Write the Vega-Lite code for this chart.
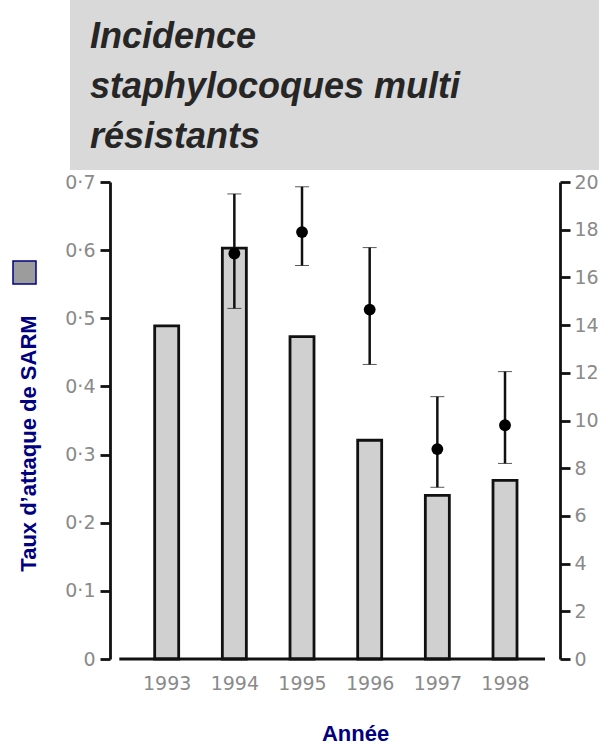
{
  "$schema": "https://vega.github.io/schema/vega-lite/v6.json",
  "padding": {"left": 12, "top": 0, "right": 0, "bottom": 0},
  "background": "white",
  "spacing": 3,
  "config": {"font": "Liberation Sans", "view": {"stroke": null}},
  "vconcat": [
    {
      "width": 529,
      "height": 170,
      "view": {"fill": "#d9d9d9", "stroke": null},
      "data": {"values": [{"bloc": "titre"}]},
      "title": {
        "text": ["Incidence", "staphylocoques multi", "résistants"],
        "anchor": "start",
        "orient": "top",
        "baseline": "bottom",
        "offset": -192,
        "dx": 20,
        "font": "Liberation Sans",
        "fontSize": 36,
        "fontStyle": "italic",
        "fontWeight": "bold",
        "color": "#262626",
        "lineHeight": 50
      },
      "mark": {"type": "rect", "color": "#d9d9d9"},
      "encoding": {}
    },
    {
      "width": 480,
      "height": 477,
      "data": {
        "values": [
          {"annee": 1993, "sarm": 0.489, "incidence": null, "bas": null, "haut": null},
          {"annee": 1994, "sarm": 0.603, "incidence": 17.0, "bas": 14.7, "haut": 19.5},
          {"annee": 1995, "sarm": 0.473, "incidence": 17.9, "bas": 16.5, "haut": 19.8},
          {"annee": 1996, "sarm": 0.321, "incidence": 14.65, "bas": 12.35, "haut": 17.25},
          {"annee": 1997, "sarm": 0.240, "incidence": 8.8, "bas": 7.2, "haut": 11.0},
          {"annee": 1998, "sarm": 0.262, "incidence": 9.8, "bas": 8.2, "haut": 12.05}
        ]
      },
      "layer": [
        {
          "layer": [
            {
              "mark": {"type": "bar", "size": 24, "fill": "#d0d0d0", "stroke": "#111111", "strokeWidth": 2.8},
              "encoding": {
                "x": {
                  "field": "annee",
                  "type": "quantitative",
                  "scale": {"domain": [1991.645, 1998.591], "nice": false, "zero": false},
                  "axis": {
                    "values": [1993, 1994, 1995, 1996, 1997, 1998],
                    "format": "d",
                    "ticks": false,
                    "tickSize": 0,
                    "domain": false,
                    "grid": false,
                    "labelPadding": 15,
                    "labelColor": "#8a8a8a",
                    "labelFont": "DejaVu Sans",
                    "labelFontSize": 19,
                    "labelFlush": false,
                    "labelOverlap": false,
                    "title": "Année",
                    "titleColor": "#000080",
                    "titleFont": "Liberation Sans",
                    "titleFontSize": 22,
                    "titleFontWeight": "bold",
                    "titleX": 285,
                    "titleY": 81,
                    "titleAlign": "center",
                    "titleBaseline": "alphabetic"
                  }
                },
                "y": {
                  "field": "sarm",
                  "type": "quantitative",
                  "scale": {"domain": [0, 0.7], "nice": false},
                  "axis": {
                    "orient": "left",
                    "offset": -40,
                    "values": [0, 0.1, 0.2, 0.3, 0.4, 0.5, 0.6, 0.7],
                    "labelExpr": "datum.value == 0 ? '0' : replace(format(datum.value, '.1f'), '.', '·')",
                    "grid": false,
                    "domainColor": "#111111",
                    "domainWidth": 2.8,
                    "tickColor": "#111111",
                    "tickWidth": 2.8,
                    "tickSize": 10,
                    "labelPadding": 5,
                    "labelColor": "#8a8a8a",
                    "labelFont": "DejaVu Sans",
                    "labelFontSize": 19,
                    "labelFlush": false,
                    "labelOverlap": false,
                    "title": "Taux d’attaque de SARM",
                    "titleColor": "#000080",
                    "titleFont": "Liberation Sans",
                    "titleFontSize": 22,
                    "titleFontWeight": "bold",
                    "titleX": -82,
                    "titleY": 261,
                    "titleAlign": "center",
                    "titleBaseline": "middle"
                  }
                }
              }
            },
            {
              "data": {"values": [{"ligne": "base"}]},
              "mark": {"type": "rule", "color": "#111111", "strokeWidth": 2.8},
              "encoding": {
                "x": {"datum": 1992.3},
                "x2": {"datum": 1998.591},
                "y": {"datum": 0}
              }
            },
            {
              "transform": [{"filter": "false"}],
              "mark": {"type": "square", "filled": true, "opacity": 1, "stroke": "#000080", "strokeWidth": 1.5},
              "encoding": {
                "fill": {
                  "datum": "Taux d’attaque de SARM",
                  "scale": {"range": ["#9c9c9c"]},
                  "legend": {
                    "orient": "none",
                    "legendX": -58,
                    "legendY": 260,
                    "title": null,
                    "padding": 0,
                    "symbolType": "square",
                    "symbolSize": 529,
                    "symbolStrokeColor": "#000080",
                    "symbolStrokeWidth": 1.5,
                    "symbolOpacity": 1,
                    "labelExpr": "''"
                  }
                }
              }
            }
          ]
        },
        {
          "transform": [{"filter": "datum.incidence != null"}],
          "layer": [
            {
              "mark": {
                "type": "errorbar",
                "ticks": {"size": 14, "color": "#111111", "strokeWidth": 2.5},
                "rule": {"color": "#111111", "strokeWidth": 2.5}
              },
              "encoding": {
                "x": {"field": "annee", "type": "quantitative"},
                "y": {
                  "field": "bas",
                  "type": "quantitative",
                  "scale": {"domain": [0, 20], "nice": false},
                  "axis": {
                    "orient": "right",
                    "offset": 10,
                    "values": [0, 2, 4, 6, 8, 10, 12, 14, 16, 18, 20],
                    "grid": false,
                    "title": null,
                    "domainColor": "#111111",
                    "domainWidth": 2.8,
                    "tickColor": "#111111",
                    "tickWidth": 2.8,
                    "tickSize": 10,
                    "labelPadding": 4,
                    "labelColor": "#8a8a8a",
                    "labelFont": "DejaVu Sans",
                    "labelFontSize": 19,
                    "labelFlush": false,
                    "labelOverlap": false
                  }
                },
                "y2": {"field": "haut"}
              }
            },
            {
              "mark": {"type": "point", "filled": true, "size": 140, "color": "#000000", "opacity": 1},
              "encoding": {
                "x": {"field": "annee", "type": "quantitative"},
                "y": {"field": "incidence", "type": "quantitative"}
              }
            }
          ]
        }
      ],
      "resolve": {"scale": {"y": "independent"}, "axis": {"y": "independent"}}
    }
  ]
}
